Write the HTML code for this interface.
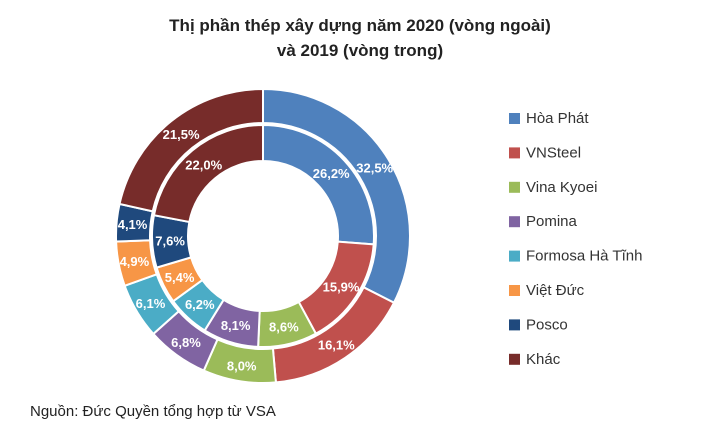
<!DOCTYPE html>
<html><head><meta charset="utf-8"><style>
body{margin:0;background:#fff;width:720px;height:434px;overflow:hidden;font-family:"Liberation Sans",sans-serif}
</style></head><body>
<svg id="s" width="720" height="434" xmlns="http://www.w3.org/2000/svg" font-family="Liberation Sans, sans-serif">
<text x="360" y="31" text-anchor="middle" font-size="17" font-weight="bold" fill="#222">Thị phần thép xây dựng năm 2020 (vòng ngoài)</text>
<text x="360" y="56" text-anchor="middle" font-size="17" font-weight="bold" fill="#222">và 2019 (vòng trong)</text>
<text x="30" y="416" font-size="15" fill="#222">Nguồn: Đức Quyền tổng hợp từ VSA</text>
<g id="g"></g>
</svg>
<script>
var cols=["#4F81BD","#C0504D","#9BBB59","#8064A2","#4BACC6","#F79646","#1F497D","#772C2A"];
var names=["Hòa Phát","VNSteel","Vina Kyoei","Pomina","Formosa Hà Tĩnh","Việt Đức","Posco","Khác"];
var outer=[32.5,16.1,8.0,6.8,6.1,4.9,4.1,21.5],inner=[26.2,15.9,8.6,8.1,6.2,5.4,7.6,22.0];
var cx=263,cy=236,h="";
function pt(r,a){return [cx+r*Math.sin(a),cy-r*Math.cos(a)];}
function ring(d,r0,r1,lr){var s=0;d.forEach(function(v,i){var a0=s/100*2*Math.PI,a1=(s+v)/100*2*Math.PI;s+=v;
var p1=pt(r1,a0),p2=pt(r1,a1),p3=pt(r0,a1),p4=pt(r0,a0),lg=(a1-a0)>Math.PI?1:0;
h+='<path d="M'+p1+' A'+r1+','+r1+' 0 '+lg+' 1 '+p2+' L'+p3+' A'+r0+','+r0+' 0 '+lg+' 0 '+p4+' Z" fill="'+cols[i]+'" stroke="#fff" stroke-width="2"/>';
var m=pt(lr,(a0+a1)/2);h+='<text x="'+m[0]+'" y="'+(m[1]+5)+'" text-anchor="middle" font-size="13" font-weight="bold" fill="#fff">'+v.toFixed(1).replace(".",",")+'%</text>';});}
ring(outer,113,147,131);ring(inner,75,111,93);
names.forEach(function(n,i){var y=118+i*34.4;h+='<rect x="509" y="'+(y-5)+'" width="11" height="11" fill="'+cols[i]+'"/><text x="526" y="'+(y+5)+'" font-size="15" fill="#333">'+n+'</text>';});
document.getElementById("g").innerHTML=h;
</script>
</body></html>
